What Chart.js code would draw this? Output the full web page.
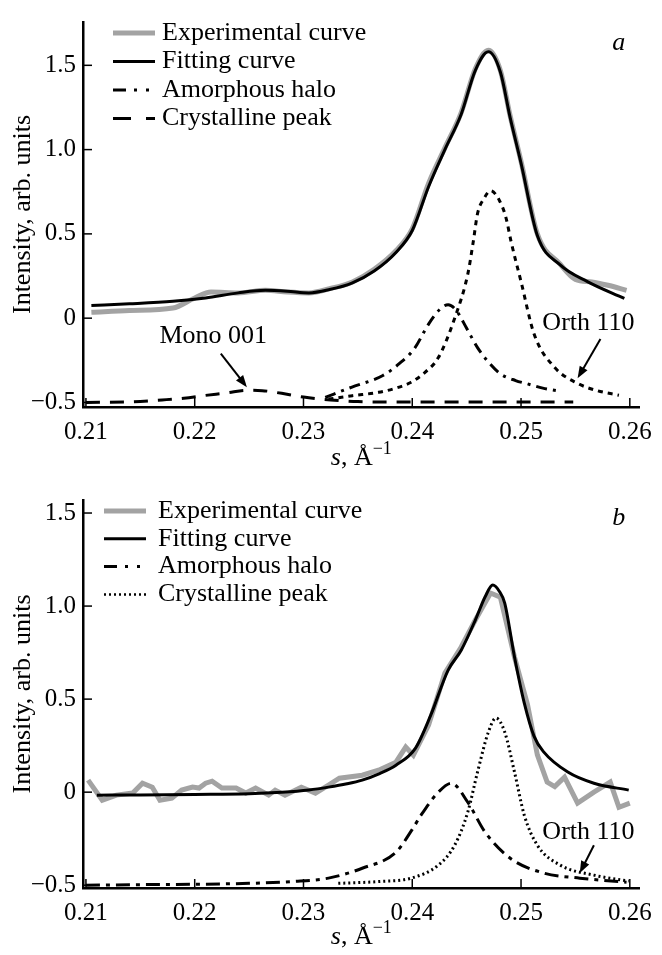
<!DOCTYPE html>
<html>
<head>
<meta charset="utf-8">
<script src="https://cdn.jsdelivr.net/npm/chart.js@4.4.1/dist/chart.umd.min.js"></script>
<style>
  body { margin: 0; background: #fff; }
  .panel { position: absolute; left: 0; width: 662px; }
</style>
</head>
<body>
<div class="panel" style="top:0;height:470px"><canvas id="chartA" width="662" height="470"></canvas></div>
<div class="panel" style="top:475px;height:480px"><canvas id="chartB" width="662" height="480"></canvas></div>
<script>
// tick values
const xTicks = [0.21, 0.22, 0.23, 0.24, 0.25, 0.26];
const yTicks = [-0.5, 0, 0.5, 1.0, 1.5];

// panel a
const sExpA = [0.2105, 0.2140, 0.2180, 0.2200, 0.2215, 0.2240, 0.2265, 0.2285, 0.2305, 0.2324, 0.2345, 0.2365, 0.2385, 0.2400, 0.2415, 0.2430, 0.2445, 0.2458, 0.2470, 0.2481, 0.2490, 0.2500, 0.2515, 0.2536, 0.2550, 0.2565, 0.2580, 0.2597];
const yExpA = [0.035, 0.045, 0.060, 0.120, 0.155, 0.150, 0.165, 0.155, 0.150, 0.175, 0.215, 0.290, 0.400, 0.530, 0.800, 1.010, 1.220, 1.480, 1.590, 1.470, 1.200, 0.930, 0.500, 0.320, 0.230, 0.215, 0.195, 0.165];
const sFitA = [0.2105, 0.2140, 0.2180, 0.2210, 0.2240, 0.2265, 0.2285, 0.2305, 0.2324, 0.2345, 0.2365, 0.2385, 0.2400, 0.2415, 0.2430, 0.2445, 0.2458, 0.2470, 0.2481, 0.2490, 0.2500, 0.2515, 0.2536, 0.2561, 0.2595];
const yFitA = [0.075, 0.085, 0.100, 0.120, 0.150, 0.165, 0.160, 0.150, 0.170, 0.210, 0.280, 0.390, 0.520, 0.780, 1.000, 1.210, 1.470, 1.580, 1.460, 1.190, 0.920, 0.490, 0.316, 0.217, 0.117];
const sHaloA = [0.2320, 0.2344, 0.2373, 0.2388, 0.2402, 0.2415, 0.2425, 0.2433, 0.2440, 0.2450, 0.2460, 0.2470, 0.2481, 0.2495, 0.2506, 0.2520, 0.2533];
const yHaloA = [-0.47, -0.41, -0.34, -0.27, -0.18, -0.035, 0.05, 0.08, 0.05, -0.06, -0.175, -0.26, -0.33, -0.37, -0.39, -0.415, -0.43];
const sOrthA = [0.2323, 0.2345, 0.2369, 0.2385, 0.2399, 0.2412, 0.2424, 0.2439, 0.2451, 0.2456, 0.2460, 0.2466, 0.2472, 0.2480, 0.2486, 0.2491, 0.2500, 0.2512, 0.2531, 0.2552, 0.2570, 0.2590];
const yOrthA = [-0.48, -0.46, -0.44, -0.415, -0.38, -0.32, -0.234, 0.00, 0.26, 0.45, 0.62, 0.71, 0.756, 0.70, 0.60, 0.45, 0.217, -0.094, -0.293, -0.387, -0.43, -0.457];
const sMonoA = [0.2100, 0.2140, 0.2170, 0.2190, 0.2210, 0.2230, 0.2247, 0.2262, 0.2280, 0.2300, 0.2325, 0.2350, 0.2400, 0.2450, 0.2500, 0.2548];
const yMonoA = [-0.50, -0.497, -0.485, -0.475, -0.458, -0.443, -0.428, -0.43, -0.446, -0.468, -0.485, -0.495, -0.498, -0.498, -0.498, -0.498];

// panel b
const sExpB = [0.2102, 0.2115, 0.2128, 0.2143, 0.2152, 0.2161, 0.2168, 0.2179, 0.2188, 0.2198, 0.2204, 0.2210, 0.2216, 0.2225, 0.2238, 0.2247, 0.2256, 0.2268, 0.2274, 0.2283, 0.2298, 0.2311, 0.2323, 0.2333, 0.2354, 0.2369, 0.2385, 0.2394, 0.2401, 0.2415, 0.2430, 0.2445, 0.2458, 0.2472, 0.2481, 0.2494, 0.2506, 0.2515, 0.2524, 0.2531, 0.2540, 0.2552, 0.2567, 0.2582, 0.2590, 0.2600];
const yExpB = [0.065, -0.043, -0.016, -0.005, 0.048, 0.027, -0.043, -0.032, 0.011, 0.027, 0.022, 0.048, 0.059, 0.022, 0.022, -0.005, 0.022, -0.016, 0.011, -0.016, 0.027, -0.005, 0.038, 0.075, 0.091, 0.118, 0.161, 0.242, 0.199, 0.36, 0.64, 0.78, 0.925, 1.07, 1.048, 0.726, 0.47, 0.20, 0.054, 0.03, 0.081, -0.059, 0.0, 0.054, -0.081, -0.059];
const sFitB = [0.2110, 0.2150, 0.2200, 0.2250, 0.2280, 0.2305, 0.2323, 0.2340, 0.2354, 0.2370, 0.2385, 0.2403, 0.2417, 0.2433, 0.2445, 0.2458, 0.2467, 0.2474, 0.2480, 0.2485, 0.2494, 0.2503, 0.2512, 0.2521, 0.2543, 0.2567, 0.2599];
const yFitB = [-0.016, -0.015, -0.012, -0.008, 0.000, 0.012, 0.027, 0.045, 0.065, 0.100, 0.145, 0.237, 0.414, 0.656, 0.763, 0.925, 1.05, 1.113, 1.08, 1.016, 0.726, 0.478, 0.30, 0.215, 0.108, 0.048, 0.011];
const sHaloB = [0.2100, 0.2150, 0.2200, 0.2250, 0.2290, 0.2323, 0.2354, 0.2385, 0.2400, 0.2408, 0.2424, 0.2436, 0.2451, 0.2467, 0.2490, 0.2521, 0.2554, 0.2597];
const yHaloB = [-0.50, -0.497, -0.495, -0.49, -0.48, -0.462, -0.409, -0.323, -0.20, -0.124, 0.0, 0.048, -0.054, -0.215, -0.355, -0.435, -0.462, -0.484];
const sCrysB = [0.2332, 0.2370, 0.2399, 0.2424, 0.2439, 0.2451, 0.2460, 0.2470, 0.2477, 0.2485, 0.2494, 0.2503, 0.2515, 0.2536, 0.2567, 0.2599];
const yCrysB = [-0.49, -0.48, -0.462, -0.392, -0.285, -0.108, 0.108, 0.323, 0.398, 0.323, 0.108, -0.124, -0.285, -0.392, -0.446, -0.478];

function pts(xs, ys) {
  return xs.map((x, i) => ({ x: x, y: ys[i] }));
}

function line(data, color, width, dash, order, tension) {
  return {
    data: data,
    borderColor: color,
    borderWidth: width,
    borderDash: dash,
    pointRadius: 0,
    fill: false,
    order: order,
    cubicInterpolationMode: tension ? 'monotone' : 'default',
    tension: 0
  };
}

function drawArrow(ctx, x0, y0, x1, y1) {
  const ang = Math.atan2(y1 - y0, x1 - x0);
  ctx.beginPath();
  ctx.moveTo(x0, y0);
  ctx.lineTo(x1 - 8 * Math.cos(ang), y1 - 8 * Math.sin(ang));
  ctx.stroke();
  ctx.beginPath();
  ctx.moveTo(x1, y1);
  ctx.lineTo(x1 - 12 * Math.cos(ang) + 4.5 * Math.sin(ang), y1 - 12 * Math.sin(ang) - 4.5 * Math.cos(ang));
  ctx.lineTo(x1 - 12 * Math.cos(ang) - 4.5 * Math.sin(ang), y1 - 12 * Math.sin(ang) + 4.5 * Math.cos(ang));
  ctx.closePath();
  ctx.fill();
}

const decor = {
  id: 'decor',
  afterDraw(chart, args, o) {
    const ctx = chart.ctx, a = chart.chartArea;
    const xs = chart.scales.x, ys = chart.scales.y;
    ctx.save();
    ctx.strokeStyle = '#000';
    ctx.fillStyle = '#000';
    ctx.lineWidth = 1.5;
    ctx.setLineDash([]);
    // ticks pointing inwards
    xTicks.forEach(v => {
      const px = xs.getPixelForValue(v);
      ctx.beginPath(); ctx.moveTo(px, a.bottom); ctx.lineTo(px, a.bottom - 9); ctx.stroke();
    });
    yTicks.forEach(v => {
      const py = ys.getPixelForValue(v);
      ctx.beginPath(); ctx.moveTo(a.left, py); ctx.lineTo(a.left + 9, py); ctx.stroke();
    });

    // legend
    ctx.font = '26px "Liberation Serif"';
    ctx.textBaseline = 'middle';
    ctx.textAlign = 'left';
    o.legend.forEach((it, i) => {
      const y = a.top + o.legendTop + i * o.legendStep;
      ctx.strokeStyle = it.color;
      ctx.lineWidth = it.width;
      ctx.setLineDash(it.dash);
      ctx.beginPath();
      ctx.moveTo(a.left + o.legendX, y);
      ctx.lineTo(a.left + o.legendX + 42, y);
      ctx.stroke();
      ctx.setLineDash([]);
      ctx.fillText(it.label, a.left + o.legendX + o.legendGap, y);
    });

    // peak labels with arrows
    ctx.strokeStyle = '#000';
    ctx.lineWidth = 2;
    o.notes.forEach(n => {
      ctx.textAlign = 'center';
      ctx.fillText(n.text, xs.getPixelForValue(n.tx), ys.getPixelForValue(n.ty));
      drawArrow(ctx, xs.getPixelForValue(n.ax0), ys.getPixelForValue(n.ay0),
        xs.getPixelForValue(n.ax1), ys.getPixelForValue(n.ay1));
    });

    // panel letter
    ctx.font = 'italic 26px "Liberation Serif"';
    ctx.textAlign = 'center';
    ctx.fillText(o.letter, a.right - 21, a.top + o.letterTop);

    // x axis title: s, Å^-1
    const ty = a.bottom + o.titleOffset;
    const fMain = '26px "Liberation Serif"', fItal = 'italic 26px "Liberation Serif"', fSup = '18px "Liberation Serif"';
    ctx.font = fItal; const w1 = ctx.measureText('s').width;
    ctx.font = fMain; const w2 = ctx.measureText(', Å').width;
    ctx.font = fSup; const w3 = ctx.measureText('−1').width;
    let x = (a.left + a.right) / 2 - (w1 + w2 + w3) / 2;
    ctx.textAlign = 'left';
    ctx.textBaseline = 'alphabetic';
    ctx.font = fItal; ctx.fillText('s', x, ty); x += w1;
    ctx.font = fMain; ctx.fillText(', Å', x, ty); x += w2;
    ctx.font = fSup; ctx.fillText('−1', x, ty - 11);
    ctx.restore();
  }
};

function makeChart(id, datasets, c) {
  return new Chart(document.getElementById(id), {
    type: 'line',
    data: { datasets: datasets },
    plugins: [decor],
    options: {
      responsive: false,
      animation: false,
      devicePixelRatio: 1,
      layout: { padding: { left: 0, right: 18, top: c.padTop, bottom: 0 } },
      plugins: {
        legend: { display: false },
        tooltip: { enabled: false },
        decor: c.decor
      },
      scales: {
        x: {
          type: 'linear',
          min: 0.20973,
          max: 0.26091,
          afterBuildTicks: s => { s.ticks = xTicks.map(v => ({ value: v })); },
          afterFit: s => { s.height = c.xHeight; },
          grid: { display: false, drawTicks: false },
          border: { display: true, color: '#000', width: 2.5 },
          ticks: {
            color: '#000',
            padding: 10,
            maxRotation: 0,
            font: { family: 'Liberation Serif', size: 25 },
            callback: v => v.toFixed(2)
          }
        },
        y: {
          min: c.yMin,
          max: c.yMax,
          afterBuildTicks: s => { s.ticks = yTicks.map(v => ({ value: v })); },
          afterFit: s => { s.width = 83; },
          grid: { display: false, drawTicks: false },
          border: { display: true, color: '#000', width: 2.5 },
          title: {
            display: true,
            text: 'Intensity, arb. units',
            color: '#000',
            padding: { top: 8, bottom: 0 },
            font: { family: 'Liberation Serif', size: 26 }
          },
          ticks: {
            color: '#000',
            padding: 7,
            font: { family: 'Liberation Serif', size: 25 },
            callback: v => v < 0 ? '−' + Math.abs(v).toFixed(1) : (v === 0 ? '0' : v.toFixed(1))
          }
        }
      }
    }
  });
}

const gray = '#a3a3a3';

makeChart('chartA', [
  line(pts(sFitA, yFitA), '#000', 3, [], 0, true),
  line(pts(sExpA, yExpA), gray, 5, [], 1, true),
  line(pts(sHaloA, yHaloA), '#000', 3, [11, 6, 3, 6], 0, true),
  line(pts(sOrthA, yOrthA), '#000', 3, [5, 5], 0, true),
  line(pts(sMonoA, yMonoA), '#000', 3, [14, 10], 0, true)
], {
  padTop: 17, xHeight: 63, yMin: -0.527, yMax: 1.757,
  decor: {
    legendX: 30, legendGap: 49, legendTop: 11, legendStep: 28.5,
    legend: [
      { label: 'Experimental curve', color: gray, width: 5, dash: [] },
      { label: 'Fitting curve', color: '#000', width: 3, dash: [] },
      { label: 'Amorphous halo', color: '#000', width: 3, dash: [13, 8, 3, 9, 3, 9] },
      { label: 'Crystalline peak', color: '#000', width: 3, dash: [18, 15] }
    ],
    notes: [
      { text: 'Mono 001', tx: 0.2217, ty: -0.105, ax0: 0.2224, ay0: -0.21, ax1: 0.2248, ay1: -0.41 },
      { text: 'Orth 110', tx: 0.2562, ty: -0.03, ax0: 0.2573, ay0: -0.123, ax1: 0.2552, ay1: -0.357 }
    ],
    letter: 'a', letterTop: 21, titleOffset: 58
  }
});

makeChart('chartB', [
  line(pts(sFitB, yFitB), '#000', 3, [], 0, true),
  line(pts(sExpB, yExpB), gray, 5, [], 1, false),
  line(pts(sHaloB, yHaloB), '#000', 3, [14, 6, 4, 6], 0, true),
  line(pts(sCrysB, yCrysB), '#000', 3, [2, 3], 0, true)
], {
  padTop: 25, xHeight: 67, yMin: -0.515, yMax: 1.57,
  decor: {
    legendX: 21, legendGap: 54, legendTop: 11, legendStep: 27.8,
    legend: [
      { label: 'Experimental curve', color: gray, width: 5, dash: [] },
      { label: 'Fitting curve', color: '#000', width: 3, dash: [] },
      { label: 'Amorphous halo', color: '#000', width: 3, dash: [13, 8, 3, 9, 3, 9] },
      { label: 'Crystalline peak', color: '#000', width: 2.5, dash: [2, 3] }
    ],
    notes: [
      { text: 'Orth 110', tx: 0.2562, ty: -0.215, ax0: 0.2567, ay0: -0.285, ax1: 0.2554, ay1: -0.435 }
    ],
    letter: 'b', letterTop: 18, titleOffset: 56
  }
});
</script>
</body>
</html>
